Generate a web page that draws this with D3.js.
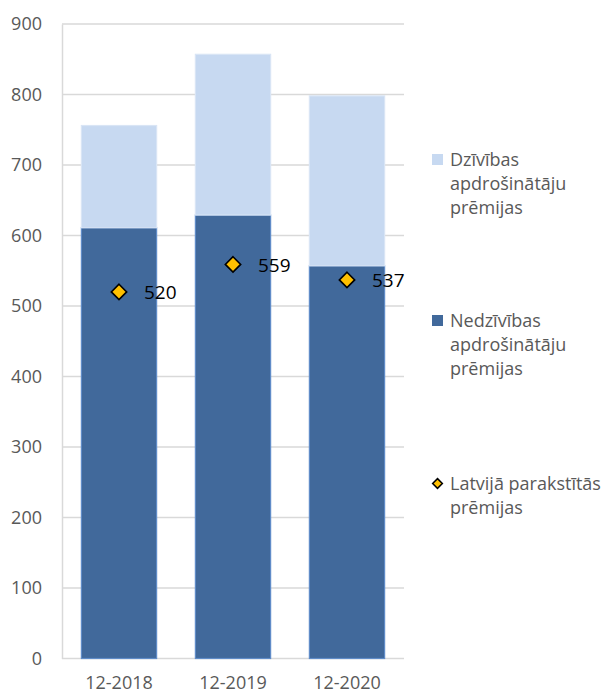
<!DOCTYPE html>
<html>
<head>
<meta charset="utf-8">
<script src="https://cdn.jsdelivr.net/npm/d3@7"></script>
<style>
  html, body { margin: 0; padding: 0; background: #fff; }
  svg { display: block; font-family: "Open Sans", "Noto Sans", sans-serif; }
</style>
</head>
<body>
<svg id="chart" width="606" height="693"></svg>
<script>
// Premium volumes by period (EUR millions)
const categories = ["12-2018", "12-2019", "12-2020"];
const nonLife = [611, 629, 557];          // Nedzīvības apdrošinātāju prēmijas
const life = [145, 228, 241];             // Dzīvības apdrošinātāju prēmijas
const latvia = [520, 559, 537];           // Latvijā parakstītās prēmijas
const yTicks = [0, 100, 200, 300, 400, 500, 600, 700, 800, 900];

const seriesNames = {
  life: ["Dzīvības", "apdrošinātāju", "prēmijas"],
  nonLife: ["Nedzīvības", "apdrošinātāju", "prēmijas"],
  latvia: ["Latvijā parakstītās", "prēmijas"]
};

const colors = { nonLife: "#41699B", nonLifeEdge: "#5F8CC8", life: "#C7D9F1", lifeEdge: "#D9E5F5", diamond: "#FFC000" };
const FONT = "'Open Sans', 'Noto Sans', sans-serif";

const svg = d3.select("#chart");
const plot = { left: 62, right: 404, top: 24, bottom: 658.5 };

const x = d3.scaleBand().domain(categories).range([plot.left, plot.right]).paddingInner(0.34).paddingOuter(0.17);
const y = d3.scaleLinear().domain([0, 900]).range([plot.bottom, plot.top]);

// grid lines
svg.append("g")
  .selectAll("line")
  .data(yTicks)
  .join("line")
  .attr("x1", plot.left).attr("x2", plot.right)
  .attr("y1", d => y(d)).attr("y2", d => y(d))
  .attr("stroke", "#D9D9D9").attr("stroke-width", 1.5);

// y axis
const yAxis = svg.append("g")
  .attr("transform", `translate(${plot.left},0)`)
  .call(d3.axisLeft(y).tickValues(yTicks).tickSize(0).tickPadding(20));
yAxis.select(".domain").attr("stroke", "#D9D9D9").attr("stroke-width", 1.5);
yAxis.selectAll("text").attr("font-size", 18).attr("fill", "#595959").attr("font-family", FONT);

// x axis labels
const xAxis = svg.append("g")
  .attr("transform", `translate(0,${plot.bottom})`)
  .call(d3.axisBottom(x).tickSize(0).tickPadding(18));
xAxis.select(".domain").remove();
xAxis.selectAll("text").attr("font-size", 18).attr("fill", "#595959").attr("font-family", FONT);

// stacked bars
const stackData = categories.map((c, i) => ({ cat: c, nonLife: nonLife[i], life: life[i] }));
const stacked = d3.stack().keys(["nonLife", "life"])(stackData);

svg.append("g")
  .selectAll("g")
  .data(stacked)
  .join("g")
  .attr("fill", d => colors[d.key])
  .attr("stroke", d => colors[d.key + "Edge"])
  .attr("stroke-width", 1.2)
  .selectAll("rect")
  .data(d => d)
  .join("rect")
  .attr("x", d => x(d.data.cat))
  .attr("width", x.bandwidth())
  .attr("y", d => y(d[1]))
  .attr("height", d => y(d[0]) - y(d[1]));

// diamonds for premiums written in Latvia
const diamond = d3.symbol().type(d3.symbolDiamond2).size(150);
const pts = svg.append("g");
pts.selectAll("path")
  .data(latvia)
  .join("path")
  .attr("d", diamond)
  .attr("transform", (d, i) => `translate(${x(categories[i]) + x.bandwidth() / 2},${y(d)})`)
  .attr("fill", colors.diamond)
  .attr("stroke", "#000")
  .attr("stroke-width", 1.6);

pts.selectAll("text")
  .data(latvia)
  .join("text")
  .attr("x", (d, i) => x(categories[i]) + x.bandwidth() / 2 + 25)
  .attr("y", d => y(d) + 7.5)
  .attr("font-size", 19)
  .attr("fill", "#000")
  .text(d => d);

// legend
const legend = svg.append("g").attr("font-size", 18).attr("fill", "#595959");
const legendItems = [
  { key: "life", top: 166 },
  { key: "nonLife", top: 327 },
  { key: "latvia", top: 490 }
];
legendItems.forEach(item => {
  const g = legend.append("g");
  const lines = seriesNames[item.key];
  lines.forEach((t, j) => {
    g.append("text").attr("x", 450).attr("y", item.top + j * 24).text(t);
  });
  if (item.key === "latvia") {
    g.append("path")
      .attr("d", d3.symbol().type(d3.symbolDiamond2).size(60))
      .attr("transform", `translate(437.5,${item.top - 6.5})`)
      .attr("fill", colors.diamond).attr("stroke", "#000").attr("stroke-width", 1.5);
  } else {
    g.append("rect")
      .attr("x", 432).attr("y", item.top - 12).attr("width", 11).attr("height", 11)
      .attr("fill", colors[item.key]);
  }
});
</script>
</body>
</html>
